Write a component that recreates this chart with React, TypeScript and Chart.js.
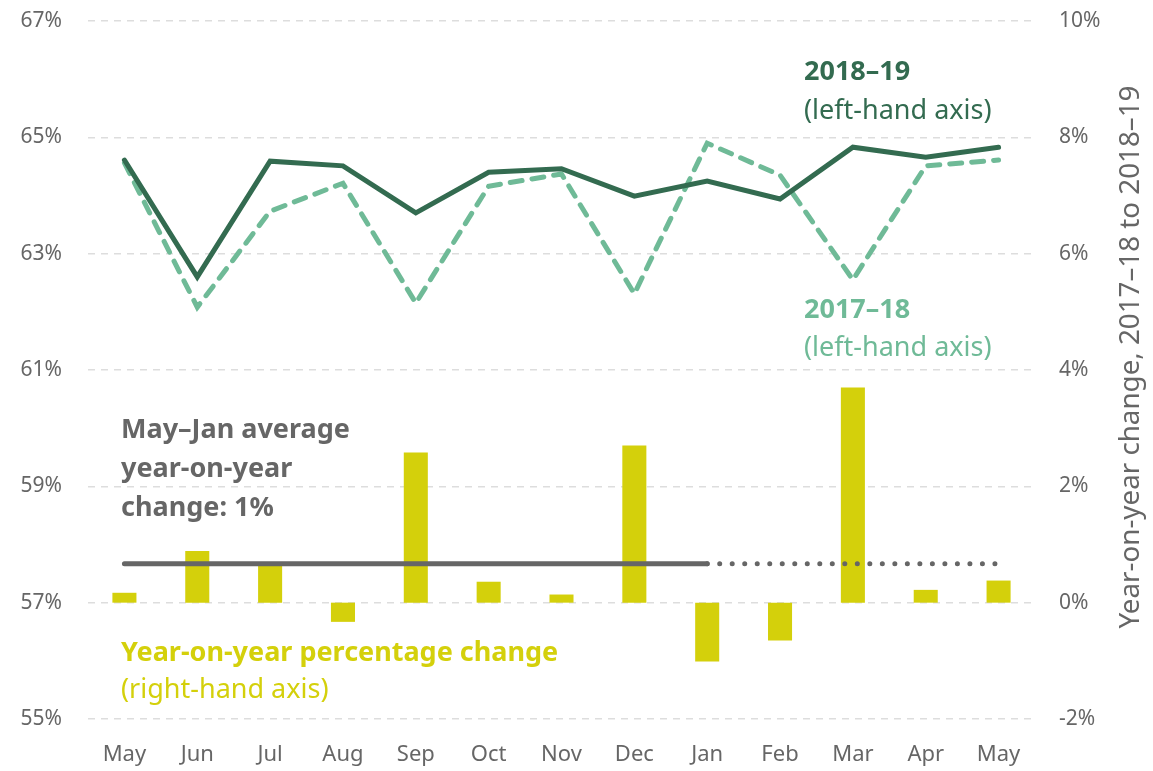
import React, { useEffect, useRef } from "react";
import { Chart, registerables } from "chart.js";

Chart.register(...registerables);

const months = ["May", "Jun", "Jul", "Aug", "Sep", "Oct", "Nov", "Dec", "Jan", "Feb", "Mar", "Apr", "May"];
const series2018_19 = [64.61, 62.6, 64.59, 64.51, 63.7, 64.4, 64.46, 63.99, 64.25, 63.94, 64.83, 64.66, 64.83];
const series2017_18 = [64.56, 62.08, 63.73, 64.21, 62.15, 64.16, 64.37, 62.31, 64.9, 64.35, 62.55, 64.51, 64.61];
const yoyChange = [0.17, 0.89, 0.7, -0.33, 2.58, 0.36, 0.14, 2.7, -1.01, -0.65, 3.7, 0.22, 0.38];
const avgSolid = [0.67, 0.67, 0.67, 0.67, 0.67, 0.67, 0.67, 0.67, 0.67, null, null, null, null];
const avgDotted = [null, null, null, null, null, null, null, null, 0.67, 0.67, 0.67, 0.67, 0.67];
const leftTicks = [55, 57, 59, 61, 63, 65, 67];
const rightTicks = [-2, 0, 2, 4, 6, 8, 10];

const DARK = "#336b50";
const LIGHT = "#6fba97";
const YELLOW = "#d4d00b";
const GRAY = "#666666";
const FONT = "'Noto Sans', 'Open Sans', sans-serif";

const annotations = {
  id: "annotations",
  afterDatasetsDraw(chart: any) {
    const ctx = chart.ctx;
    ctx.save();
    ctx.textBaseline = "middle";
    ctx.textAlign = "left";
    const put = (t: string, x: number, y: number, c: string, bold: boolean) => {
      ctx.fillStyle = c;
      ctx.font = `${bold ? "bold " : ""}27px ${FONT}`;
      ctx.fillText(t, x, y);
    };
    put("2018–19", 804, 72, DARK, true);
    put("(left-hand axis)", 804, 111, DARK, false);
    put("2017–18", 804, 310, LIGHT, true);
    put("(left-hand axis)", 804, 348, LIGHT, false);
    put("May–Jan average", 121, 430, GRAY, true);
    put("year-on-year", 121, 469, GRAY, true);
    put("change: 1%", 121, 508, GRAY, true);
    put("Year-on-year percentage change", 121, 653, YELLOW, true);
    put("(right-hand axis)", 121, 690, YELLOW, false);
    // right axis title
    ctx.translate(1131, 357);
    ctx.rotate(-Math.PI / 2);
    ctx.textAlign = "center";
    ctx.fillStyle = GRAY;
    ctx.font = `28px ${FONT}`;
    ctx.fillText("Year-on-year change, 2017–18 to 2018–19", 0, 0, 543);
    ctx.restore();
  },
};

export default function App() {
  const ref = useRef<HTMLCanvasElement>(null);
  useEffect(() => {
    if (!ref.current) return;
    const chart = new Chart(ref.current, {
      type: "bar",
      data: {
        labels: months,
        datasets: [
          {
            type: "line",
            label: "2018–19",
            data: series2018_19,
            yAxisID: "y",
            borderColor: DARK,
            borderWidth: 5,
            pointRadius: 0,
            tension: 0,
            borderCapStyle: "round",
            borderJoinStyle: "miter",
            order: 0,
          } as any,
          {
            type: "line",
            label: "2017–18",
            data: series2017_18,
            yAxisID: "y",
            borderColor: LIGHT,
            borderWidth: 5,
            borderDash: [12, 10],
            borderCapStyle: "round",
            pointRadius: 0,
            tension: 0,
            order: 1,
          } as any,
          {
            type: "line",
            label: "avg",
            data: avgSolid,
            yAxisID: "y1",
            borderColor: GRAY,
            borderWidth: 5,
            pointRadius: 0,
            borderCapStyle: "round",
            spanGaps: false,
            order: 2,
          } as any,
          {
            type: "line",
            label: "avg dotted",
            data: avgDotted,
            yAxisID: "y1",
            borderColor: GRAY,
            borderWidth: 5,
            borderDash: [0.01, 12.5],
            borderCapStyle: "round",
            pointRadius: 0,
            spanGaps: false,
            order: 3,
          } as any,
          {
            type: "bar",
            label: "Year-on-year percentage change",
            data: yoyChange,
            yAxisID: "y1",
            backgroundColor: YELLOW,
            barPercentage: 0.33,
            categoryPercentage: 1,
            order: 10,
          } as any,
        ],
      },
      options: {
        animation: false,
        responsive: false,
        maintainAspectRatio: false,
        layout: { padding: { top: 21, left: 0, right: 0, bottom: 0 } },
        plugins: { legend: { display: false }, tooltip: { enabled: false } },
        scales: {
          x: {
            offset: true,
            grid: { display: false, drawTicks: false },
            border: { display: false },
            ticks: { color: GRAY, font: { family: FONT, size: 22 }, padding: 23, maxRotation: 0, autoSkip: false },
            afterFit(s: any) { s.height = 52; s.paddingLeft = 0; s.paddingRight = 0; },
          },
          y: {
            position: "left",
            min: 55,
            max: 67,
            afterBuildTicks(s: any) { s.ticks = leftTicks.map((v) => ({ value: v })); },
            grid: { color: "#dddddd", lineWidth: 1.5, drawTicks: false },
            border: { display: false, dash: [7, 6] },
            ticks: { color: GRAY, font: { family: FONT, size: 21 }, padding: 26, callback: (v: any) => `${v}%` },
            afterFit(s: any) { s.width = 88; s.paddingTop = 0; s.paddingBottom = 0; },
          },
          y1: {
            position: "right",
            min: -2,
            max: 10,
            afterBuildTicks(s: any) { s.ticks = rightTicks.map((v) => ({ value: v })); },
            grid: { display: false, drawTicks: false },
            border: { display: false },
            ticks: { color: GRAY, font: { family: FONT, size: 21 }, padding: 24, callback: (v: any) => `${v}%` },
            afterFit(s: any) { s.width = 118; s.paddingTop = 0; s.paddingBottom = 0; },
          },
        },
      } as any,
      plugins: [annotations],
    });
    return () => chart.destroy();
  }, []);
  return (
    <div style={{ position: "fixed", left: 0, top: 0, width: 1153, height: 771, background: "#fff" }}>
      <canvas ref={ref} width={1153} height={771} style={{ display: "block" }} />
    </div>
  );
}
